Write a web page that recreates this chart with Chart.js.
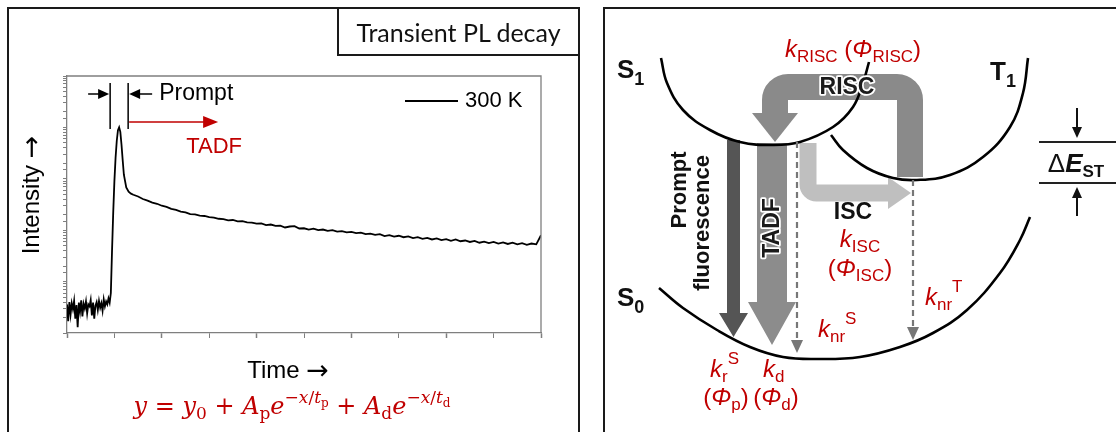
<!DOCTYPE html>
<html lang="en">
<head>
<meta charset="UTF-8">
<title>TADF transient PL decay</title>
<style>
  html, body { margin: 0; padding: 0; background: #fff; }
  #wrap { position: relative; width: 1116px; height: 432px; overflow: hidden; }
  .box { position: absolute; border: 2px solid #1a1a1a; box-sizing: border-box; }
  #leftBox { left: 7px; top: 7px; width: 573px; height: 450px; }
  #rightBox { left: 603px; top: 7px; width: 540px; height: 450px; }
  #titleBox { left: 337px; top: 7px; width: 243px; height: 49px; font: 25px Lato, sans-serif; color: #111;
              display: flex; align-items: center; justify-content: center; }
  canvas { position: absolute; top: 0; }
  #decay { left: 0; }
  #diagram { left: 604px; }
</style>
</head>
<body>
<div id="wrap">
  <div class="box" id="leftBox"></div>
  <div class="box" id="rightBox"></div>
  <canvas id="decay" width="590" height="432"></canvas>
  <canvas id="diagram" width="512" height="432"></canvas>
  <div class="box" id="titleBox">Transient PL decay</div>
</div>
<script src="https://cdn.jsdelivr.net/npm/chart.js"></script>
<script>
// --- decay curve (300 K) ---
const times = [
  0, 0.025, 0.05, 0.075, 0.1, 0.125, 0.15, 0.175, 0.2, 0.225, 0.25, 0.275, 0.3, 0.325, 0.35, 0.375,
  0.4, 0.425, 0.45, 0.475, 0.5, 0.525, 0.55, 0.575, 0.6, 0.625, 0.65, 0.675, 0.7, 0.725, 0.75, 0.775,
  0.8, 0.825, 0.85, 0.875, 0.9,
  0.925, 0.95, 0.975, 1.0, 1.025, 1.05, 1.075, 1.1, 1.125, 1.15, 1.175, 1.2, 1.25, 1.3, 1.35,
  1.4, 1.5, 1.6, 1.7, 1.8, 1.9,
  2.0, 2.1, 2.2, 2.3, 2.4, 2.5, 2.6, 2.7, 2.8, 2.9,
  3.0, 3.1, 3.2, 3.3, 3.4, 3.5, 3.6, 3.7, 3.8, 3.9,
  4.0, 4.1, 4.2, 4.3, 4.4, 4.5, 4.6, 4.7, 4.8, 4.9,
  5.0, 5.1, 5.2, 5.3, 5.4, 5.5, 5.6, 5.7, 5.8, 5.9,
  6.0, 6.1, 6.2, 6.3, 6.4, 6.5, 6.6, 6.7, 6.8, 6.9,
  7.0, 7.1, 7.2, 7.3, 7.4, 7.5, 7.6, 7.7, 7.8, 7.9,
  8.0, 8.1, 8.2, 8.3, 8.4, 8.5, 8.6, 8.7, 8.8, 8.9,
  9.0, 9.1, 9.2, 9.3, 9.4, 9.5, 9.6, 9.7, 9.8, 9.9,
  10.0
];
const intensity = [
  3.6, 1.7, 4.0, 2.3, 3.8, 2.9, 4.2, 1.9, 3.5, 1.3, 3.9, 2.6, 4.3, 2.1, 3.7, 3.0,
  4.1, 2.4, 3.6, 3.3, 4.4, 2.2, 3.9, 1.9, 3.4, 4.0, 2.8, 4.2, 3.1, 3.8, 2.7, 4.5,
  3.3, 4.1, 3.6, 4.7, 3.9,
  6, 40, 220, 900, 2600, 5500, 8800, 10000, 8200, 4600, 2300, 1200, 680, 560, 515,
  490, 452, 405, 376, 343, 327,
  299, 285, 260, 248, 231, 222, 206, 203, 193, 189,
  179, 176, 167, 164, 156, 158, 149, 150, 142, 140,
  134, 135, 126, 129, 121, 122, 113, 118, 120, 108,
  109, 103, 107, 100, 103, 97, 100, 94, 96, 91,
  93, 88, 90, 84, 86, 81, 84, 77, 80, 75,
  78, 73, 76, 70, 73, 68, 71, 66, 69, 64,
  67, 62, 66, 61, 63, 59, 62, 57, 60, 56,
  59, 55, 58, 54, 57, 53, 56, 52, 55, 53,
  80
];
const promptWindow = [0.91, 1.29];   // time span marked "Prompt"
const seriesLabel = '300 K';

// --- energy diagram curves (diagram units: x right, y = energy up) ---
const s1Curve = [[57,374],[63,349],[79,322],[106,302],[136,290],[169,287],[196,290],[229,305],[249,325],[259,349],[265,370]];
const t1Curve = [[227,297],[239,282],[263,264],[289,254],[313,252],[346,257],[379,275],[406,305],[419,339],[424,374]];
const s0Curve = [[55,144],[79,124],[113,102],[146,85],[179,75],[213,73],[256,75],[296,85],[329,99],[363,122],[396,159],[416,192],[426,215]];

const SANS = '"Liberation Sans", Arial, sans-serif';
const SERIF = '"DejaVu Serif", "Liberation Serif", serif';
const ARROW = '"DejaVu Sans", sans-serif';
const RED = '#c00000';

function richText(ctx, parts, x, y, align) {
  let w = 0;
  parts.forEach(p => { ctx.font = p.f; p.w = ctx.measureText(p.t).width; w += p.w; });
  let cx = align === 'center' ? x - w / 2 : x;
  ctx.textAlign = 'left';
  ctx.textBaseline = 'alphabetic';
  parts.forEach(p => { ctx.font = p.f; ctx.fillText(p.t, cx, y + (p.dy || 0)); cx += p.w; });
}

function head(ctx, x1, y1, x2, y2, len, half) {
  const a = Math.atan2(y2 - y1, x2 - x1);
  ctx.beginPath();
  ctx.moveTo(x2, y2);
  ctx.lineTo(x2 - len * Math.cos(a) + half * Math.sin(a), y2 - len * Math.sin(a) - half * Math.cos(a));
  ctx.lineTo(x2 - len * Math.cos(a) - half * Math.sin(a), y2 - len * Math.sin(a) + half * Math.cos(a));
  ctx.closePath();
  ctx.fill();
}

function arrow(ctx, x1, y1, x2, y2, color, lw, len, half) {
  const a = Math.atan2(y2 - y1, x2 - x1);
  ctx.strokeStyle = color; ctx.fillStyle = color; ctx.lineWidth = lw;
  ctx.beginPath();
  ctx.moveTo(x1, y1);
  ctx.lineTo(x2 - (len - 2) * Math.cos(a), y2 - (len - 2) * Math.sin(a));
  ctx.stroke();
  head(ctx, x1, y1, x2, y2, len, half);
}

function rotText(ctx, txt, cx, cy, font) {
  ctx.save();
  ctx.translate(cx, cy);
  ctx.rotate(-Math.PI / 2);
  ctx.font = font;
  ctx.textAlign = 'center';
  ctx.textBaseline = 'middle';
  ctx.fillText(txt, 0, 0);
  ctx.restore();
}

const decayDecor = {
  id: 'decayDecor',
  afterDraw(chart) {
    const { ctx, chartArea: a, scales: { x } } = chart;
    ctx.save();
    // frame top and right
    ctx.strokeStyle = '#7f7f7f'; ctx.lineWidth = 1.3;
    ctx.beginPath();
    ctx.moveTo(a.left, a.top); ctx.lineTo(a.right, a.top); ctx.lineTo(a.right, a.bottom);
    ctx.stroke();

    // prompt window
    const p0 = x.getPixelForValue(promptWindow[0]);
    const p1 = x.getPixelForValue(promptWindow[1]);
    ctx.strokeStyle = '#000'; ctx.lineWidth = 1.5;
    ctx.beginPath();
    ctx.moveTo(p0, a.top + 7); ctx.lineTo(p0, a.top + 53);
    ctx.moveTo(p1, a.top + 7); ctx.lineTo(p1, a.top + 53);
    ctx.stroke();
    arrow(ctx, p0 - 22, a.top + 18, p0 - 1, a.top + 18, '#000', 1.5, 11, 5);
    arrow(ctx, p1 + 24, a.top + 18, p1 + 1, a.top + 18, '#000', 1.5, 11, 5);
    ctx.fillStyle = '#000';
    ctx.font = '23px ' + SANS;
    ctx.textAlign = 'left'; ctx.textBaseline = 'middle';
    ctx.fillText('Prompt', p1 + 31, a.top + 18);

    arrow(ctx, p1 + 1, a.top + 46, p1 + 90, a.top + 46, RED, 1.6, 15, 6);
    ctx.fillStyle = RED;
    ctx.font = '22px ' + SANS;
    ctx.textAlign = 'center';
    ctx.fillText('TADF', p1 + 86, a.top + 71);

    // legend
    ctx.strokeStyle = '#000'; ctx.lineWidth = 2;
    ctx.beginPath(); ctx.moveTo(405, 101); ctx.lineTo(458, 101); ctx.stroke();
    ctx.fillStyle = '#000';
    ctx.textAlign = 'left';
    ctx.fillText(seriesLabel, 465, 101);

    // axis titles
    richText(ctx, [{ t: 'Time ', f: '24px ' + SANS }, { t: '\u2192', f: '27px ' + ARROW, dy: 1 }], 288, 378, 'center');
    ctx.save();
    ctx.translate(39, 195);
    ctx.rotate(-Math.PI / 2);
    richText(ctx, [{ t: 'Intensity ', f: '24px ' + SANS }, { t: '\u2192', f: '27px ' + ARROW, dy: 1 }], 0, 0, 'center');
    ctx.restore();

    // fit equation
    ctx.fillStyle = RED;
    const M = 'italic 24px ' + SERIF, R = '24px ' + SERIF;
    const s = '17px ' + SERIF, si = 'italic 17px ' + SERIF, ss = '12px ' + SERIF;
    richText(ctx, [
      { t: 'y', f: M }, { t: ' = ', f: R }, { t: 'y', f: M }, { t: '0', f: s, dy: 5 },
      { t: ' + ', f: R }, { t: 'A', f: M }, { t: 'p', f: s, dy: 5 }, { t: 'e', f: M },
      { t: '\u2212', f: s, dy: -11 }, { t: 'x', f: si, dy: -11 }, { t: '/', f: s, dy: -11 },
      { t: 't', f: si, dy: -11 }, { t: 'p', f: ss, dy: -7 },
      { t: ' + ', f: R }, { t: 'A', f: M }, { t: 'd', f: s, dy: 5 }, { t: 'e', f: M },
      { t: '\u2212', f: s, dy: -11 }, { t: 'x', f: si, dy: -11 }, { t: '/', f: s, dy: -11 },
      { t: 't', f: si, dy: -11 }, { t: 'd', f: ss, dy: -7 }
    ], 292, 414, 'center');
    ctx.restore();
  }
};

new Chart(document.getElementById('decay'), {
  type: 'line',
  data: {
    datasets: [{
      label: seriesLabel,
      data: times.map((t, i) => ({ x: t, y: intensity[i] })),
      borderColor: '#000',
      borderWidth: 1.8,
      pointRadius: 0,
      tension: 0
    }]
  },
  options: {
    responsive: false,
    animation: false,
    layout: { padding: { top: 76, right: 49, left: 0, bottom: 0 } },
    plugins: { legend: { display: false }, tooltip: { enabled: false } },
    scales: {
      x: {
        type: 'linear', min: 0, max: 10,
        ticks: { display: false, stepSize: 1 },
        grid: { drawOnChartArea: false, tickLength: 5, tickColor: '#7f7f7f',
                tickWidth: c => (c.tick && c.tick.value % 2 === 0) ? 1.5 : 1 },
        border: { color: '#7f7f7f', width: 1.3 },
        afterFit: s => { s.height = 99; }
      },
      y: {
        type: 'logarithmic', min: 1, max: 1e5,
        ticks: { display: false },
        grid: { drawOnChartArea: false, tickLength: 4, tickColor: '#7f7f7f' },
        border: { color: '#7f7f7f', width: 1.3 },
        afterFit: s => { s.width = 67; }
      }
    }
  },
  plugins: [decayDecor]
});

// --- energy diagram ---
const diagramDecor = {
  id: 'diagramDecor',
  beforeDatasetsDraw(chart) {
    const { ctx, scales: { x, y } } = chart;
    const P = (a, b) => [x.getPixelForValue(a), y.getPixelForValue(b)];
    ctx.save();

    // straight block arrows: prompt fluorescence and TADF
    const block = (cx, yTop, yBase, yTip, w, hw, color) => {
      const pts = [[cx - w / 2, yTop], [cx + w / 2, yTop], [cx + w / 2, yBase], [cx + hw / 2, yBase],
                   [cx, yTip], [cx - hw / 2, yBase], [cx - w / 2, yBase]].map(p => P(p[0], p[1]));
      ctx.fillStyle = color;
      ctx.beginPath();
      pts.forEach((p, i) => i ? ctx.lineTo(p[0], p[1]) : ctx.moveTo(p[0], p[1]));
      ctx.closePath();
      ctx.fill();
    };
    block(129.5, 292, 119, 95, 13, 29, '#555555');
    block(168, 289, 130, 87, 30, 48, '#8c8c8c');

    // bent arrows: ISC and RISC
    const bent = (pts, lw, color) => {
      const q = pts.map(p => P(p[0], p[1]));
      ctx.strokeStyle = color; ctx.lineWidth = lw; ctx.lineCap = 'butt'; ctx.lineJoin = 'miter';
      ctx.beginPath();
      ctx.moveTo(q[0][0], q[0][1]);
      for (let i = 1; i < q.length - 1; i++) ctx.arcTo(q[i][0], q[i][1], q[i + 1][0], q[i + 1][1], lw / 2);
      ctx.lineTo(q[q.length - 1][0], q[q.length - 1][1]);
      ctx.stroke();
    };
    bent([[204, 289], [204, 239], [285, 239]], 17, '#bfbfbf');
    ctx.fillStyle = '#bfbfbf';
    ctx.beginPath();
    [[284, 255], [307, 239], [284, 223]].map(p => P(p[0], p[1]))
      .forEach((p, i) => i ? ctx.lineTo(p[0], p[1]) : ctx.moveTo(p[0], p[1]));
    ctx.closePath(); ctx.fill();

    bent([[306, 255], [306, 345], [171, 345], [171, 318]], 26, '#8a8a8a');
    ctx.fillStyle = '#8a8a8a';
    ctx.beginPath();
    [[148, 319], [194, 319], [171, 290]].map(p => P(p[0], p[1]))
      .forEach((p, i) => i ? ctx.lineTo(p[0], p[1]) : ctx.moveTo(p[0], p[1]));
    ctx.closePath(); ctx.fill();
    ctx.restore();
  },
  afterDatasetsDraw(chart) {
    const { ctx, scales: { x, y } } = chart;
    const P = (a, b) => [x.getPixelForValue(a), y.getPixelForValue(b)];
    ctx.save();

    // non-radiative dashed arrows
    const dashed = (cx, yTop, yTip) => {
      const a = P(cx, yTop), b = P(cx, yTip);
      ctx.strokeStyle = '#777'; ctx.fillStyle = '#777'; ctx.lineWidth = 2.2;
      ctx.setLineDash([6, 4]);
      ctx.beginPath(); ctx.moveTo(a[0], a[1]); ctx.lineTo(b[0], b[1] - 11); ctx.stroke();
      ctx.setLineDash([]);
      head(ctx, a[0], a[1], b[0], b[1], 13, 6);
    };
    dashed(193, 290, 79);
    dashed(309, 252, 92);

    // outlined labels on the block arrows
    const outlined = (txt, cx, cy, rot) => {
      ctx.save();
      ctx.translate(cx, cy);
      if (rot) ctx.rotate(-Math.PI / 2);
      ctx.font = 'bold 23px ' + SANS;
      ctx.textAlign = 'center'; ctx.textBaseline = 'middle';
      ctx.strokeStyle = '#fff'; ctx.lineWidth = 3.5; ctx.lineJoin = 'round';
      ctx.strokeText(txt, 0, 0);
      ctx.fillStyle = '#1a1a1a';
      ctx.fillText(txt, 0, 0);
      ctx.restore();
    };
    let p = P(243, 344); outlined('RISC', p[0], p[1], false);
    p = P(169, 204); outlined('TADF', p[0], p[1], true);

    ctx.fillStyle = '#111';
    p = P(76, 242); rotText(ctx, 'Prompt', p[0], p[1], 'bold 22px ' + SANS);
    p = P(99, 209); rotText(ctx, 'fluorescence', p[0], p[1], 'bold 22px ' + SANS);
    ctx.font = 'bold 23px ' + SANS; ctx.textAlign = 'center'; ctx.textBaseline = 'middle';
    p = P(249, 219); ctx.fillText('ISC', p[0], p[1]);

    // state labels
    const B = 'bold 26px ' + SANS, b = 'bold 18px ' + SANS;
    p = P(13, 354); richText(ctx, [{ t: 'S', f: B }, { t: '1', f: b, dy: 7 }], p[0], p[1], 'left');
    p = P(386, 352); richText(ctx, [{ t: 'T', f: B }, { t: '1', f: b, dy: 7 }], p[0], p[1], 'left');
    p = P(13, 126); richText(ctx, [{ t: 'S', f: B }, { t: '0', f: b, dy: 7 }], p[0], p[1], 'left');

    // rate constants
    ctx.fillStyle = RED;
    const K = 'italic 24px ' + SANS, N = '24px ' + SANS, sub = '17px ' + SANS;
    p = P(249, 375);
    richText(ctx, [{ t: 'k', f: K }, { t: 'RISC', f: sub, dy: 5 }, { t: ' (', f: N }, { t: '\u03A6', f: K },
                   { t: 'RISC', f: sub, dy: 5 }, { t: ')', f: N }], p[0], p[1], 'center');
    p = P(256, 185); richText(ctx, [{ t: 'k', f: K }, { t: 'ISC', f: sub, dy: 5 }], p[0], p[1], 'center');
    p = P(256, 156); richText(ctx, [{ t: '(', f: N }, { t: '\u03A6', f: K }, { t: 'ISC', f: sub, dy: 5 }, { t: ')', f: N }], p[0], p[1], 'center');
    p = P(321, 127); richText(ctx, [{ t: 'k', f: K }, { t: 'nr', f: sub, dy: 5 }, { t: 'T', f: sub, dy: -13 }], p[0], p[1], 'left');
    p = P(214, 95); richText(ctx, [{ t: 'k', f: K }, { t: 'nr', f: sub, dy: 5 }, { t: 'S', f: sub, dy: -13 }], p[0], p[1], 'left');
    p = P(106, 55); richText(ctx, [{ t: 'k', f: K }, { t: 'r', f: sub, dy: 5 }, { t: 'S', f: sub, dy: -13 }], p[0], p[1], 'left');
    p = P(159, 55); richText(ctx, [{ t: 'k', f: K }, { t: 'd', f: sub, dy: 5 }], p[0], p[1], 'left');
    p = P(122, 27); richText(ctx, [{ t: '(', f: N }, { t: '\u03A6', f: K }, { t: 'p', f: sub, dy: 5 }, { t: ')', f: N }], p[0], p[1], 'center');
    p = P(172, 27); richText(ctx, [{ t: '(', f: N }, { t: '\u03A6', f: K }, { t: 'd', f: sub, dy: 5 }, { t: ')', f: N }], p[0], p[1], 'center');

    // singlet-triplet gap
    ctx.strokeStyle = '#222'; ctx.lineWidth = 2;
    const g1 = P(435, 290), g2 = P(512, 290), g3 = P(435, 249), g4 = P(512, 249);
    ctx.beginPath();
    ctx.moveTo(g1[0], g1[1]); ctx.lineTo(g2[0], g2[1]);
    ctx.moveTo(g3[0], g3[1]); ctx.lineTo(g4[0], g4[1]);
    ctx.stroke();
    let a1 = P(473, 324), a2 = P(473, 294);
    arrow(ctx, a1[0], a1[1], a2[0], a2[1], '#111', 2, 11, 5);
    a1 = P(473, 216); a2 = P(473, 245);
    arrow(ctx, a1[0], a1[1], a2[0], a2[1], '#111', 2, 11, 5);
    ctx.fillStyle = '#111';
    p = P(472, 260);
    richText(ctx, [{ t: '\u0394', f: '26px ' + SANS }, { t: 'E', f: 'bold italic 26px ' + SANS },
                   { t: 'ST', f: 'bold 17px ' + SANS, dy: 5 }], p[0], p[1], 'center');
    ctx.restore();
  }
};

new Chart(document.getElementById('diagram'), {
  type: 'scatter',
  data: {
    datasets: [s1Curve, t1Curve, s0Curve].map(c => ({
      data: c.map(q => ({ x: q[0], y: q[1] })),
      showLine: true,
      borderColor: '#000',
      borderWidth: 2.6,
      pointRadius: 0,
      tension: 0.4
    }))
  },
  options: {
    responsive: false,
    animation: false,
    layout: { padding: 0 },
    plugins: { legend: { display: false }, tooltip: { enabled: false } },
    scales: {
      x: { display: false, min: 0, max: 512 },
      y: { display: false, min: 0, max: 432 }
    }
  },
  plugins: [diagramDecor]
});
</script>
</body>
</html>
